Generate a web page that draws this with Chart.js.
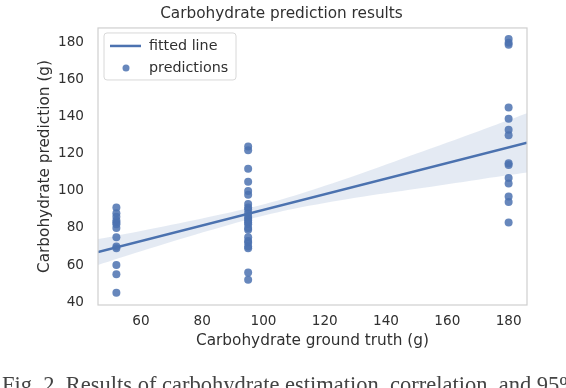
<!DOCTYPE html>
<html>
<head>
<meta charset="utf-8">
<script src="https://cdn.jsdelivr.net/npm/chart.js@4.4.0/dist/chart.umd.min.js"></script>
<style>
  html, body { margin: 0; padding: 0; background: #fff; }
  #wrap { position: relative; width: 566px; height: 388px; overflow: hidden; }
  #caption {
    position: absolute; left: 2px; top: 372px; white-space: nowrap;
    font-family: "Liberation Serif", serif; font-size: 22.5px; color: #444;
  }
</style>
</head>
<body>
<div id="wrap">
  <canvas id="carbChart" width="566" height="388"></canvas>
  <div id="caption">Fig. 2. Results of carbohydrate estimation, correlation, and 95%</div>
</div>
<script>
// ground truth levels and the predictions read at each of them
const truthLevels = [52, 95, 180];
const predAt52 = [91, 88, 86, 84, 83, 82, 80, 75, 70, 69, 60, 55, 45];
const predAt95 = [124, 122, 112, 105, 100, 98, 93, 91, 90, 88, 86, 85, 84, 83, 82, 80, 79, 75, 73, 72, 70, 69, 56, 52];
const predAt180 = [182, 180, 179, 145, 139, 133, 130, 115, 114, 107, 104, 97, 94, 83];

// fitted line and its 95% band
const fitX = [46, 186];
const fitY = [67, 126];
const bandX = [46, 60, 80, 95, 110, 130, 150, 170, 186];
const bandLow = [60, 67.4, 77.5, 84.6, 90.4, 96.3, 101.2, 106.1, 109.9];
const bandHigh = [74, 78.4, 85.1, 90.6, 97.4, 108.3, 120.2, 132.1, 141.9];

// tick labels
const xTicks = [60, 80, 100, 120, 140, 160, 180];
const yTicks = [40, 60, 80, 100, 120, 140, 160, 180];

const blue = '#4c72b0';
const textCol = '#303030';
const font = "'DejaVu Sans', sans-serif";

const groups = [predAt52, predAt95, predAt180];
const points = [];
groups.forEach((g, i) => g.forEach(v => points.push({ x: truthLevels[i], y: v })));

// frame round the plot + legend in the upper left corner
const framePlugin = {
    id: 'frameAndLegend',
    afterDraw(chart) {
        const c = chart.ctx, a = chart.chartArea;
        c.save();
        c.strokeStyle = '#cfcfcf';
        c.lineWidth = 1.2;
        c.strokeRect(a.left, a.top, a.right - a.left, a.bottom - a.top);

        // legend box
        const bx = a.left + 6, by = a.top + 5, bw = 132, bh = 47;
        c.fillStyle = 'rgba(255,255,255,0.9)';
        c.strokeStyle = '#d8d8d8';
        c.lineWidth = 1;
        c.beginPath();
        c.roundRect(bx, by, bw, bh, 3);
        c.fill();
        c.stroke();

        c.strokeStyle = blue;
        c.lineWidth = 2.5;
        c.beginPath();
        c.moveTo(bx + 6, by + 13);
        c.lineTo(bx + 37, by + 13);
        c.stroke();

        c.fillStyle = 'rgba(76,114,176,0.85)';
        c.beginPath();
        c.arc(bx + 22, by + 35, 3.5, 0, Math.PI * 2);
        c.fill();

        c.fillStyle = textCol;
        c.font = "14.3px " + font;
        c.textBaseline = 'middle';
        c.fillText('fitted line', bx + 45, by + 13);
        c.fillText('predictions', bx + 45, by + 35);
        c.restore();
    }
};

const ctx = document.getElementById('carbChart').getContext('2d');

new Chart(ctx, {
    type: 'scatter',
    data: {
        datasets: [
            {
                // band lower edge
                type: 'line',
                data: bandX.map((x, i) => ({ x: x, y: bandLow[i] })),
                borderWidth: 0,
                pointRadius: 0,
                fill: false,
                tension: 0.3
            },
            {
                // band upper edge, filled down to the lower one
                type: 'line',
                data: bandX.map((x, i) => ({ x: x, y: bandHigh[i] })),
                borderWidth: 0,
                pointRadius: 0,
                backgroundColor: 'rgba(76,114,176,0.15)',
                fill: '-1',
                tension: 0.3
            },
            {
                type: 'line',
                label: 'fitted line',
                data: fitX.map((x, i) => ({ x: x, y: fitY[i] })),
                borderColor: blue,
                borderWidth: 2.5,
                pointRadius: 0,
                fill: false
            },
            {
                label: 'predictions',
                data: points,
                backgroundColor: 'rgba(76,114,176,0.85)',
                borderWidth: 0,
                pointRadius: 4
            }
        ]
    },
    options: {
        responsive: false,
        animation: false,
        layout: { padding: { left: 36, right: 39, top: 0, bottom: 35 } },
        plugins: {
            legend: { display: false },
            tooltip: { enabled: false },
            title: {
                display: true,
                text: 'Carbohydrate prediction results',
                color: textCol,
                font: { family: font, size: 15.3, weight: 'normal' },
                padding: { top: 5, bottom: 4.6 }
            }
        },
        scales: {
            x: {
                type: 'linear',
                min: 46,
                max: 186,
                grid: { display: false, drawTicks: false },
                border: { display: false },
                afterBuildTicks: s => { s.ticks = xTicks.map(v => ({ value: v })); },
                afterFit: s => { s.height = 48; },
                ticks: { color: textCol, font: { family: font, size: 13.6 }, padding: 8 },
                title: {
                    display: true,
                    text: 'Carbohydrate ground truth (g)',
                    color: textCol,
                    font: { family: font, size: 15.3 },
                    padding: { top: 0, bottom: 3 }
                }
            },
            y: {
                min: 38.4,
                max: 188,
                grid: { display: false, drawTicks: false },
                border: { display: false },
                afterBuildTicks: s => { s.ticks = yTicks.map(v => ({ value: v })); },
                afterFit: s => { s.width = 62; },
                ticks: { color: textCol, font: { family: font, size: 13.6 }, padding: 14 },
                title: {
                    display: true,
                    text: 'Carbohydrate prediction (g)',
                    color: textCol,
                    font: { family: font, size: 15.3 },
                    padding: { top: 0, bottom: 0 }
                }
            }
        }
    },
    plugins: [framePlugin]
});
</script>
</body>
</html>
